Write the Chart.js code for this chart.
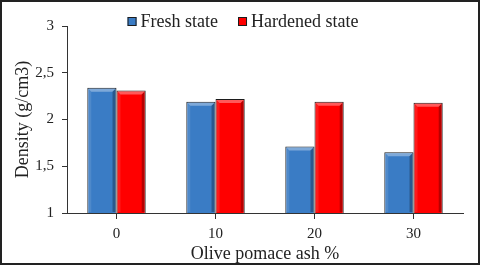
<!DOCTYPE html>
<html>
<head>
<meta charset="utf-8">
<script src="https://cdn.jsdelivr.net/npm/chart.js@4"></script>
<style>
  html, body { margin: 0; padding: 0; background: #fff; }
  #wrap { width: 480px; height: 265px; position: relative; }
</style>
</head>
<body>
<div id="wrap"><canvas id="densityChart" width="480" height="265"></canvas></div>
<script>
const categories = ['0', '10', '20', '30']; // Olive pomace ash %
const freshState = [2.34, 2.19, 1.71, 1.65];
const hardenedState = [2.31, 2.22, 2.19, 2.18];
const seriesNames = ['Fresh state', 'Hardened state'];
const seriesColors = ['#3a7cc5', '#ff0000'];

const serif = "'Liberation Serif', 'Times New Roman', serif";

// fondo blanco y marco negro alrededor de toda la imagen
const framePlugin = {
  id: 'frame',
  beforeDraw(chart) {
    const c = chart.ctx;
    c.save();
    c.fillStyle = '#fff';
    c.fillRect(0, 0, chart.width, chart.height);
    c.restore();
  },
  afterDraw(chart) {
    const c = chart.ctx;
    c.save();
    c.strokeStyle = '#222';
    c.lineWidth = 2;
    c.strokeRect(1, 1, chart.width - 2, chart.height - 2);
    c.restore();
  }
};

// leyenda arriba, pegada al area del grafico (como en Excel)
const legendPlugin = {
  id: 'topLegend',
  afterDraw(chart) {
    const c = chart.ctx;
    const box = 9, gap = 4, sep = 20;
    c.save();
    c.font = '18px ' + serif;
    c.textBaseline = 'alphabetic';
    const widths = chart.data.datasets.map(ds => c.measureText(ds.label).width);
    const total = widths.reduce((a, w) => a + box + gap + w, 0) + sep * (widths.length - 1);
    let x = chart.width / 2 + 3 - total / 2;
    const baseY = 27;
    chart.data.datasets.forEach((ds, i) => {
      c.fillStyle = ds.backgroundColor;
      c.fillRect(x, baseY - 10, box, box);
      c.strokeStyle = '#1c1c1c';
      c.lineWidth = 1;
      c.strokeRect(x + 0.5, baseY - 9.5, box - 1, box - 1);
      x += box + gap;
      c.fillStyle = '#222';
      c.fillText(ds.label, x, baseY);
      x += widths[i] + sep;
    });
    c.restore();
  }
};

// efecto bisel de las barras
const bevelPlugin = {
  id: 'bevel',
  afterDatasetsDraw(chart) {
    const c = chart.ctx;
    const b = 3;
    const area = chart.chartArea;
    c.save();
    chart.data.datasets.forEach((ds, i) => {
      chart.getDatasetMeta(i).data.forEach(bar => {
        const l = bar.x - bar.width / 2 + 1, r = bar.x + bar.width / 2 - 1;
        const t = bar.y + 1, bot = Math.min(bar.base, area.bottom) - 1;
        c.fillStyle = 'rgba(255,255,255,0.35)';
        c.beginPath();
        c.moveTo(l, t); c.lineTo(r, t); c.lineTo(r - b, t + b); c.lineTo(l + b, t + b); c.closePath();
        c.fill();
        c.fillStyle = 'rgba(255,255,255,0.1)';
        c.beginPath();
        c.moveTo(l, t); c.lineTo(l + b, t + b); c.lineTo(l + b, bot); c.lineTo(l, bot); c.closePath();
        c.fill();
        c.fillStyle = 'rgba(0,0,0,0.28)';
        c.beginPath();
        c.moveTo(r, t); c.lineTo(r, bot); c.lineTo(r - b, bot); c.lineTo(r - b, t + b); c.closePath();
        c.fill();
      });
    });
    c.restore();
  }
};

const ctx = document.getElementById('densityChart').getContext('2d');
new Chart(ctx, {
  type: 'bar',
  data: {
    labels: categories,
    datasets: [{
      label: seriesNames[0],
      data: freshState,
      backgroundColor: seriesColors[0],
      borderColor: '#1c1c1c',
      borderWidth: 1,
      borderSkipped: false
    }, {
      label: seriesNames[1],
      data: hardenedState,
      backgroundColor: seriesColors[1],
      borderColor: '#1c1c1c',
      borderWidth: 1,
      borderSkipped: false
    }]
  },
  options: {
    responsive: false,
    animation: false,
    layout: { padding: { left: 8, right: 17, top: 26, bottom: 0 } },
    datasets: { bar: { categoryPercentage: 0.59, barPercentage: 1 } },
    plugins: {
      legend: { display: false },
      tooltip: { enabled: false }
    },
    scales: {
      y: {
        min: 1,
        max: 3,
        ticks: {
          stepSize: 0.5,
          color: '#222',
          padding: 8,
          font: { family: serif, size: 15 },
          callback: v => String(v).replace('.', ',')
        },
        grid: { drawOnChartArea: false, drawTicks: true, tickLength: 5, color: '#333' },
        border: { color: '#333', width: 1 },
        title: { display: true, text: 'Density (g/cm3)', color: '#222', font: { family: serif, size: 18 }, padding: 4 },
        afterFit(scale) { scale.width = 59; }
      },
      x: {
        ticks: { color: '#222', padding: 6, font: { family: serif, size: 15 } },
        grid: { offset: false, drawOnChartArea: false, drawTicks: true, tickLength: 6, color: '#333' },
        border: { color: '#333', width: 1 },
        title: { display: true, text: 'Olive pomace ash %', color: '#222', font: { family: serif, size: 18 }, padding: 0 },
        afterFit(scale) { scale.height = 52; }
      }
    }
  },
  plugins: [framePlugin, bevelPlugin, legendPlugin]
});
</script>
</body>
</html>
